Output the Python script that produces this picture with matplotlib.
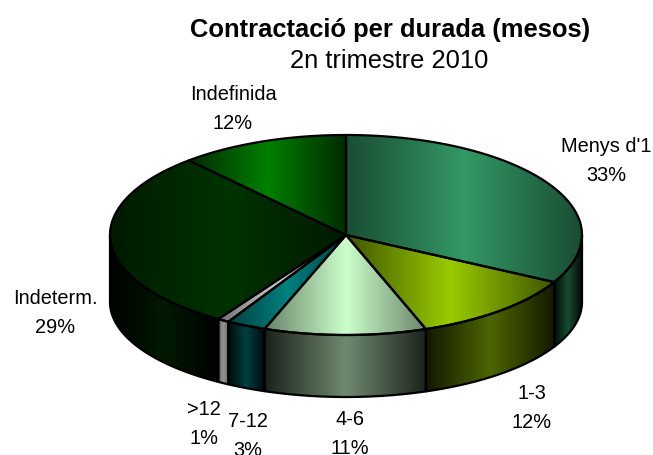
import numpy as np
import matplotlib
matplotlib.use("Agg")
import matplotlib.pyplot as plt
from matplotlib.colors import LinearSegmentedColormap
from matplotlib.patches import Polygon

plt.rcParams['font.family'] = ['Liberation Sans', 'DejaVu Sans']

categories = ["Menys d'1", "1-3", "4-6", "7-12", ">12", "Indeterm.", "Indefinida"]
shares = [32.8, 11.7, 11.1, 2.7, 0.8, 29.3, 11.6]

# colours: top centre, top edge, side centre, side edge
top_bright = ['#339966', '#99cc00', '#ccffcc', '#008080', '#d0d0d0', '#003300', '#008000']
top_dark = ['#1a4d33', '#3f5500', '#6a856a', '#004040', '#707070', '#001a00', '#002a00']
side_bright = ['#1a4d33', '#4d6600', '#6f8a6f', '#004040', '#969696', '#001a00', '#004000']
side_dark = ['#000a05', '#141800', '#1c221c', '#000808', '#606060', '#000000', '#000000']

# label text positions, pixels
label_x = [606, 532, 350, 248, 204, 55, 233]
label_y = [161, 408, 434, 436, 424, 313, 109]

cx, cy = 346, 236
rx, ry = 236, 100
depth, ry_low = 67, 95

fig = plt.figure(figsize=(6.53, 4.56), dpi=100)
ax = fig.add_axes([0, 0, 1, 1])


def rim(a0, a1, dy=0, r=ry):
    t = np.radians(np.linspace(a0, a1, 80))
    return np.column_stack([cx + rx * np.sin(t), cy - r * np.cos(t) + dy])


def shaded(pts, bright, dark):
    x0, x1 = pts[:, 0].min(), pts[:, 0].max()
    y0, y1 = pts[:, 1].min(), pts[:, 1].max()
    cmap = LinearSegmentedColormap.from_list('c', [dark, bright, dark])
    im = ax.imshow(np.linspace(0, 1, 128)[None, :], cmap=cmap, aspect='auto',
                   extent=[x0, x1, y1, y0], interpolation='bilinear', zorder=2)
    edge = Polygon(pts, closed=True, facecolor='none', edgecolor='black',
                   linewidth=1.6, joinstyle='round', zorder=3)
    ax.add_patch(edge)
    im.set_clip_path(edge)


edges = np.concatenate([[0], np.cumsum(shares)]) * 3.6

# sides first, only the front half of the rim shows
for i in range(len(shares)):
    a0, a1 = max(edges[i], 90), min(edges[i + 1], 270)
    if a1 > a0:
        pts = np.vstack([rim(a0, a1), rim(a1, a0, depth, ry_low)])
        shaded(pts, side_bright[i], side_dark[i])

for i in range(len(shares)):
    pts = np.vstack([[cx, cy], rim(edges[i], edges[i + 1])])
    shaded(pts, top_bright[i], top_dark[i])

for i, name in enumerate(categories):
    ax.text(label_x[i], label_y[i], f"{name}\n{round(shares[i])}%", ha='center', va='center',
            fontsize=14.4, color='black', linespacing=1.65, clip_on=False)

ax.text(390, 30, "Contractació per durada (mesos)", ha='center', va='center',
        fontsize=18.4, fontweight='bold')
ax.text(389, 61, "2n trimestre 2010", ha='center', va='center', fontsize=18.4)

ax.set_xlim(0, 653)
ax.set_ylim(456, 0)
ax.axis('off')

fig.savefig("out.png", dpi=100)
